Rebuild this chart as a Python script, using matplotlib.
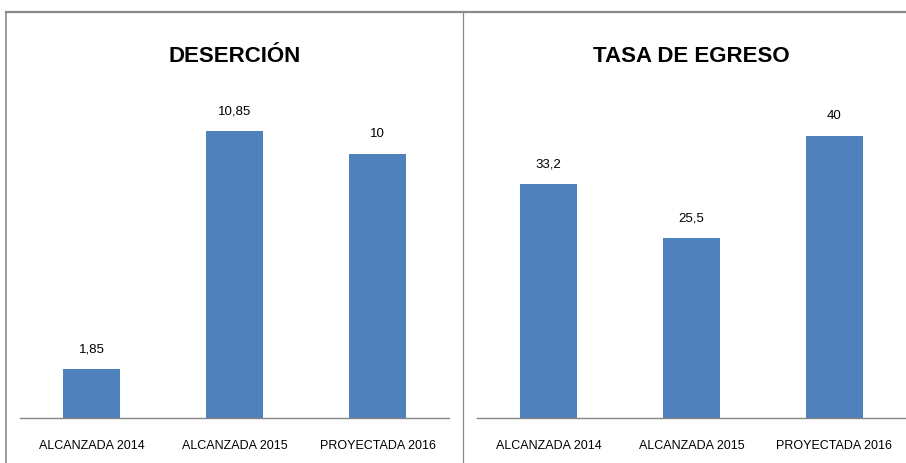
import matplotlib
matplotlib.use("Agg")
import matplotlib.pyplot as plt
from matplotlib.lines import Line2D

# data
categories = ["ALCANZADA 2014", "ALCANZADA 2015", "PROYECTADA 2016"]
desercion = [1.85, 10.85, 10]
egreso = [33.2, 25.5, 40]
titles = ["DESERCIÓN", "TASA DE EGRESO"]

BAR_COLOR = "#4F81BD"
GRID_GREY = "#868686"
FONT = ["Liberation Sans", "DejaVu Sans"]
plt.rcParams["font.family"] = FONT

W, H = 906, 463
fig = plt.figure(figsize=(W / 100, H / 100), dpi=100)


def px_axes(x0, x1, y_top, y_bottom):
    return fig.add_axes([x0 / W, 1 - y_bottom / H, (x1 - x0) / W, (y_bottom - y_top) / H])


def draw_panel(ax, values, ymax, title, cx):
    xs = range(len(categories))
    ax.bar(xs, values, width=0.4, color=BAR_COLOR, zorder=2)
    for x, v in zip(xs, values):
        txt = ("%g" % v).replace(".", ",")
        ax.annotate(txt, (x, v), xytext=(0, 10), textcoords="offset points",
                    ha="center", va="bottom", fontsize=9.5, color="#000000")
    ax.set_xlim(-0.5, len(categories) - 0.5)
    ax.set_ylim(0, ymax)
    ax.set_xticks(list(xs))
    ax.set_xticklabels(categories, fontsize=9)
    ax.tick_params(axis="x", length=0, pad=16)
    ax.set_yticks([])
    for side in ("top", "right", "left"):
        ax.spines[side].set_visible(False)
    ax.spines["bottom"].set_color(GRID_GREY)
    ax.spines["bottom"].set_linewidth(1.0)
    # title: baseline sits at about y=62 px in the reference
    fig.text(cx / W, 1 - 62 / H, title, ha="center", va="baseline",
             fontsize=16, fontweight="bold")


ax1 = px_axes(20, 449, 101, 418)
draw_panel(ax1, desercion, 12, titles[0], 234.5)

ax2 = px_axes(477, 906, 101, 418)
draw_panel(ax2, egreso, 45, titles[1], 691.5)

# frame lines around the two panels
border = "#8A8A8A"
fig.add_artist(Line2D([6 / W, 1], [1 - 12 / H, 1 - 12 / H], color=border, lw=1.6))
fig.add_artist(Line2D([6 / W, 6 / W], [0, 1 - 12 / H], color=border, lw=1.2))
fig.add_artist(Line2D([463 / W, 463 / W], [0, 1 - 12 / H], color=border, lw=0.9))

fig.savefig("out.png", dpi=100)
